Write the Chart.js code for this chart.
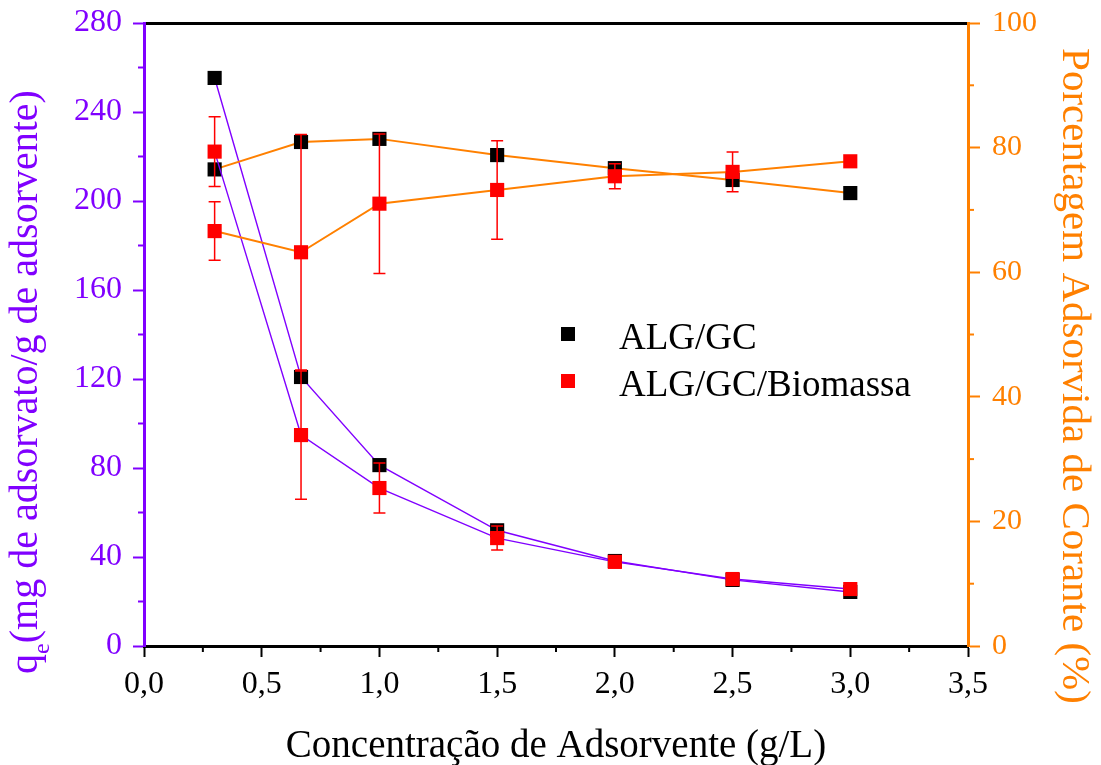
<!DOCTYPE html>
<html>
<head>
<meta charset="utf-8">
<script src="https://cdn.jsdelivr.net/npm/chart.js@4.4.1/dist/chart.umd.min.js"></script>
<style>
    html, body { margin: 0; padding: 0; background: #fff; }
</style>
</head>
<body>
<canvas id="chart" width="1101" height="765"></canvas>
<script>
// Concentração de adsorvente (g/L)
const conc = [0.3, 0.667, 1.0, 1.5, 2.0, 2.5, 3.0];

// q_e (mg/g), eixo esquerdo
const qeAlg = [255.3, 120.9, 81.3, 52.0, 38.2, 29.7, 24.3];
const qeBio = [222.2, 94.8, 71.0, 48.5, 37.8, 30.1, 25.6];
const qeBioErr = [15.7, 28.8, 11.2, 5.4, 0, 0, 0];

// Porcentagem adsorvida (%), eixo direito
const pctAlg = [76.5, 80.9, 81.4, 78.8, 76.7, 74.8, 72.7];
const pctBio = [66.6, 63.2, 71.0, 73.2, 75.4, 76.1, 77.8];
const pctBioErr = [4.7, 18.9, 11.2, 7.9, 2.0, 3.2, 0];

const seriesNames = ['ALG/GC', 'ALG/GC/Biomassa'];

const purple = '#8000ff';
const orange = '#ff8000';
const red = '#ff0000';
const serif = "'Liberation Serif', 'Times New Roman', serif";

function pts(ys) {
    return conc.map((x, i) => ({ x: x, y: ys[i] }));
}

function series(label, ys, axis, lineColor, markColor, errs) {
    return {
        label: label,
        data: pts(ys),
        yAxisID: axis,
        borderColor: lineColor,
        borderWidth: axis === 'y' ? 1.4 : 2,
        pointStyle: 'rect',
        pointRadius: 10,
        pointHoverRadius: 10,
        pointBackgroundColor: markColor,
        pointBorderColor: markColor,
        pointBorderWidth: 0,
        tension: 0,
        errors: errs
    };
}

// barras de erro desenhadas pelas escalas do Chart.js
const errorBars = {
    id: 'errorBars',
    afterDatasetsDraw(chart) {
        const ctx = chart.ctx;
        const xs = chart.scales.x;
        chart.data.datasets.forEach(ds => {
            if (!ds.errors) return;
            const ys = chart.scales[ds.yAxisID];
            ctx.save();
            ctx.strokeStyle = red;
            ctx.lineWidth = 1.5;
            ds.data.forEach((p, j) => {
                const e = ds.errors[j];
                if (!e) return;
                const px = xs.getPixelForValue(p.x);
                const top = ys.getPixelForValue(p.y + e);
                const bot = ys.getPixelForValue(p.y - e);
                ctx.beginPath();
                ctx.moveTo(px, top); ctx.lineTo(px, bot);
                ctx.moveTo(px - 6, top); ctx.lineTo(px + 6, top);
                ctx.moveTo(px - 6, bot); ctx.lineTo(px + 6, bot);
                ctx.stroke();
            });
            ctx.restore();
        });
    }
};

// ticks menores (o Chart.js só tem ticks maiores)
const minorTicks = {
    id: 'minorTicks',
    afterDraw(chart) {
        const { ctx, chartArea: a, scales } = chart;
        ctx.save();
        ctx.lineWidth = 2;
        const seg = (x1, y1, x2, y2) => { ctx.beginPath(); ctx.moveTo(x1, y1); ctx.lineTo(x2, y2); ctx.stroke(); };
        ctx.strokeStyle = purple;
        for (let v = 20; v < 280; v += 40) {
            const p = scales.y.getPixelForValue(v);
            seg(a.left - 6, p, a.left, p);
        }
        ctx.strokeStyle = orange;
        for (let v = 10; v < 100; v += 20) {
            const p = scales.y2.getPixelForValue(v);
            seg(a.right, p, a.right + 6, p);
        }
        ctx.strokeStyle = '#000';
        for (let v = 0.25; v < 3.5; v += 0.5) {
            const p = scales.x.getPixelForValue(v);
            seg(p, a.bottom, p, a.bottom + 6);
        }
        ctx.restore();
    }
};

// títulos dos eixos y (o esquerdo tem subscrito)
const yTitles = {
    id: 'yTitles',
    afterDraw(chart) {
        const ctx = chart.ctx;
        ctx.save();
        ctx.textBaseline = 'alphabetic';

        // esquerdo: q_e(mg de adsorvato/g de adsorvente)
        const big = '40px ' + serif, small = '24px ' + serif;
        const rest = '(mg de adsorvato/g de adsorvente)';
        ctx.font = big;
        const wq = ctx.measureText('q').width;
        const wr = ctx.measureText(rest).width;
        ctx.font = small;
        const we = ctx.measureText('e').width;
        const total = wq + we + wr;
        ctx.translate(37, 382);
        ctx.rotate(-Math.PI / 2);
        ctx.fillStyle = purple;
        let x = -total / 2;
        ctx.font = big; ctx.fillText('q', x, 0); x += wq;
        ctx.font = small; ctx.fillText('e', x, 12); x += we;
        ctx.font = big; ctx.fillText(rest, x, 0);
        ctx.restore();

        // direito
        ctx.save();
        ctx.font = '41px ' + serif;
        ctx.fillStyle = orange;
        ctx.textAlign = 'center';
        ctx.textBaseline = 'alphabetic';
        ctx.translate(1063, 376);
        ctx.rotate(Math.PI / 2);
        ctx.fillText('Porcentagem Adsorvida de Corante (%)', 0, 0);
        ctx.restore();
    }
};

// legenda dentro da área do gráfico
const legendBox = {
    id: 'legendBox',
    afterDraw(chart) {
        const ctx = chart.ctx;
        ctx.save();
        ctx.font = '37px ' + serif;
        ctx.textBaseline = 'middle';
        const colors = ['#000', red];
        seriesNames.forEach((name, i) => {
            const y = 334 + i * 47;
            ctx.fillStyle = colors[i];
            ctx.fillRect(561, y - 7, 14, 14);
            ctx.fillStyle = '#000';
            ctx.fillText(name, 619, y + 5);
        });
        ctx.restore();
    }
};

const tickFont = { family: serif, size: 32 };

// os rótulos não devem empurrar a área do gráfico
function fixY(width) {
    return s => { s.width = width; s.paddingTop = 0; s.paddingBottom = 0; };
}

new Chart(document.getElementById('chart'), {
    type: 'line',
    data: {
        datasets: [
            series(seriesNames[1], pctBio, 'y2', orange, red, pctBioErr),
            series(seriesNames[1], qeBio, 'y', purple, red, qeBioErr),
            series(seriesNames[0], pctAlg, 'y2', orange, '#000'),
            series(seriesNames[0], qeAlg, 'y', purple, '#000')
        ]
    },
    options: {
        responsive: false,
        animation: false,
        devicePixelRatio: 1,
        layout: { padding: { top: 23 } },
        plugins: {
            legend: { display: false },
            tooltip: { enabled: false }
        },
        scales: {
            x: {
                type: 'linear',
                position: 'bottom',
                min: 0,
                max: 3.5,
                ticks: {
                    stepSize: 0.5,
                    autoSkip: false,
                    maxRotation: 0,
                    color: '#000',
                    font: tickFont,
                    padding: 8,
                    callback: v => v.toFixed(1).replace('.', ',')
                },
                grid: { display: true, drawOnChartArea: false, drawTicks: true, tickLength: 11, tickWidth: 2, tickColor: '#000' },
                border: { display: true, color: '#000', width: 3 },
                title: {
                    display: true,
                    text: 'Concentração de Adsorvente (g/L)',
                    color: '#000',
                    font: { family: serif, size: 39 },
                    padding: { top: 0, bottom: -5 }
                },
                afterFit: s => { s.height = 119; s.paddingLeft = 0; s.paddingRight = 0; }
            },
            x2: {
                type: 'linear',
                position: 'top',
                min: 0,
                max: 3.5,
                ticks: { display: false },
                grid: { display: false },
                border: { display: true, color: '#000', width: 3 },
                afterFit: s => { s.height = 0; s.paddingLeft = 0; s.paddingRight = 0; }
            },
            y: {
                type: 'linear',
                position: 'left',
                min: 0,
                max: 280,
                ticks: { stepSize: 40, color: purple, font: tickFont, padding: 11 },
                grid: { display: true, drawOnChartArea: false, drawTicks: true, tickLength: 11, tickWidth: 2, tickColor: purple },
                border: { display: true, color: purple, width: 3 },
                afterFit: fixY(144)
            },
            y2: {
                type: 'linear',
                position: 'right',
                min: 0,
                max: 100,
                ticks: { stepSize: 20, color: orange, font: { family: serif, size: 30 }, padding: 12 },
                grid: { display: true, drawOnChartArea: false, drawTicks: true, tickLength: 12, tickWidth: 2, tickColor: orange },
                border: { display: true, color: orange, width: 3 },
                afterFit: fixY(133)
            }
        }
    },
    plugins: [minorTicks, errorBars, yTitles, legendBox]
});
</script>
</body>
</html>
